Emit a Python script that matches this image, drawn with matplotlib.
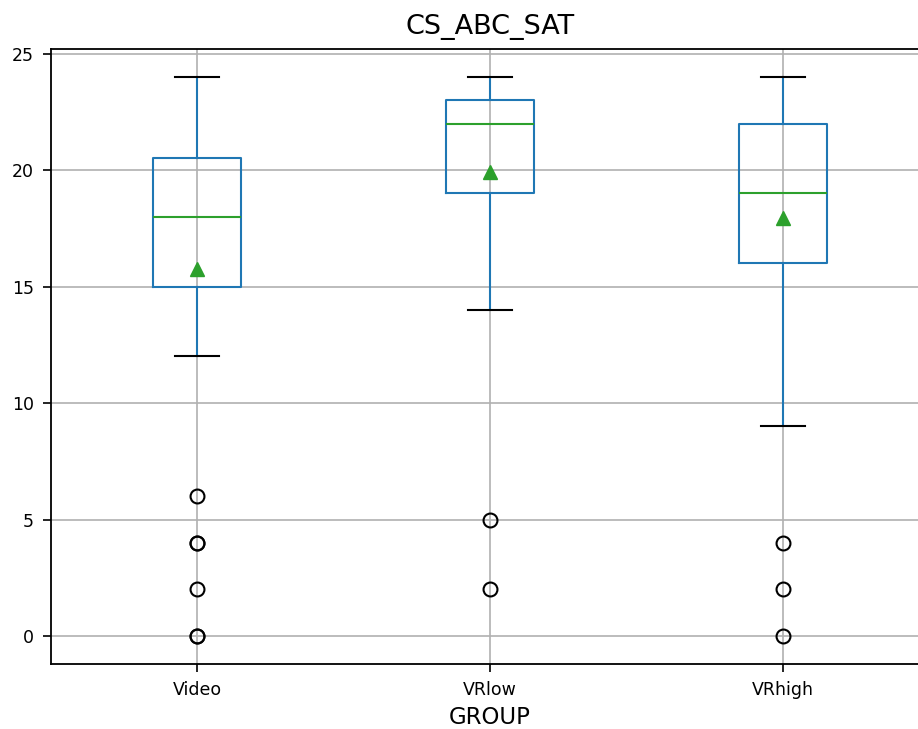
import matplotlib
matplotlib.use("Agg")
import matplotlib.pyplot as plt

# box statistics
groups = ["Video", "VRlow", "VRhigh"]
q1 = [15, 19, 16]
q3 = [20.5, 23, 22]
medians = [18, 22, 19]
means = [15.75, 19.9, 17.95]
whis_lo = [12, 14, 9]
whis_hi = [24, 24, 24]
fliers = [[6, 4, 4, 2, 0, 0], [5, 2], [4, 2, 0]]

stats = []
for i, g in enumerate(groups):
    stats.append(dict(label=g, q1=q1[i], q3=q3[i], med=medians[i], mean=means[i],
                      whislo=whis_lo[i], whishi=whis_hi[i], fliers=fliers[i]))

fig = plt.figure(figsize=(9.18, 7.29), dpi=100)
ax = fig.add_axes([50.5 / 918, 65 / 729, 879 / 918, 615 / 729])

lw = 1.5
ax.bxp(stats, positions=[1, 2, 3], widths=0.3, showmeans=True,
       boxprops=dict(color="#1f77b4", linewidth=lw),
       whiskerprops=dict(color="#1f77b4", linewidth=lw),
       capprops=dict(color="black", linewidth=lw),
       medianprops=dict(color="#2ca02c", linewidth=lw),
       meanprops=dict(marker="^", markerfacecolor="#2ca02c", markeredgecolor="#2ca02c",
                      markersize=10),
       flierprops=dict(marker="o", markerfacecolor="none", markeredgecolor="black",
                       markersize=10, markeredgewidth=1.5))

ax.set_xlim(0.5, 3.5)
ax.set_ylim(-1.2, 25.2)
ax.set_yticks([0, 5, 10, 15, 20, 25])
ax.grid(True, color="#b0b0b0", linewidth=1.2)
ax.set_axisbelow(True)
for s in ax.spines.values():
    s.set_linewidth(1.3)
# the reference image is cropped just before the right spine
ax.spines["right"].set_visible(False)
ax.tick_params(labelsize=12.5, length=6, width=1.2, pad=6)

ax.set_title("CS_ABC_SAT", fontsize=19.5, pad=11)
ax.set_xlabel("GROUP", fontsize=16.5, labelpad=5)

fig.savefig("out.png", dpi=100)
